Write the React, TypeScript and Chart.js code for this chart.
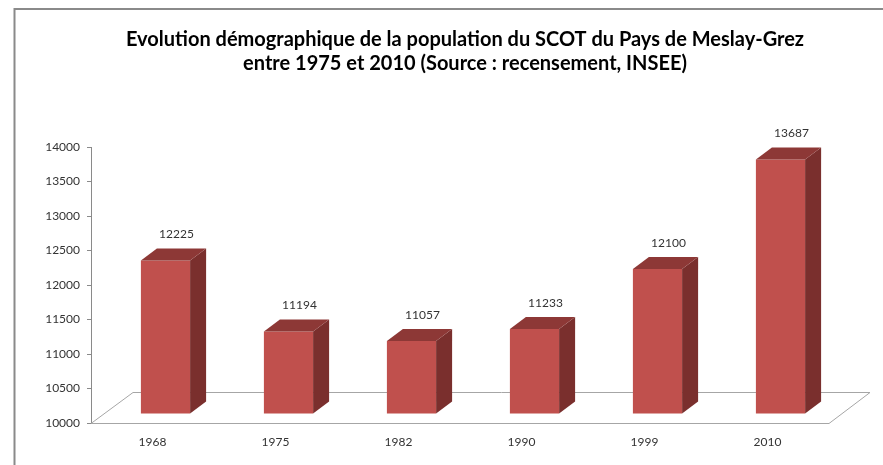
import React, { useEffect, useRef } from "react";
import { Chart, registerables } from "chart.js";

Chart.register(...registerables);

const categories = ["1968", "1975", "1982", "1990", "1999", "2010"];
const population = [12225, 11194, 11057, 11233, 12100, 13687];
const yMin = 10000;
const yMax = 14000;
const yStep = 500;
const titleLines = [
  "Evolution démographique de la population du SCOT du Pays de Meslay-Grez",
  "entre 1975 et 2010 (Source : recensement, INSEE)",
];

const FRONT = "#C0504D";
const TOP = "#8D3836";
const SIDE = "#7A2F2D";
const FONT = "Lato, 'Open Sans', sans-serif";

const threeD = {
  id: "threeD",
  beforeDraw(chart: any) {
    const ctx = chart.ctx;
    ctx.save();
    ctx.strokeStyle = "#8a8a8a";
    ctx.lineWidth = 2;
    ctx.beginPath();
    ctx.moveTo(14.5, chart.height);
    ctx.lineTo(14.5, 9);
    ctx.lineTo(chart.width, 9);
    ctx.stroke();
    ctx.fillStyle = "#000";
    ctx.font = `bold 20px ${FONT}`;
    ctx.textAlign = "center";
    ctx.textBaseline = "alphabetic";
    ctx.fillText(titleLines[0], 465, 46);
    ctx.fillText(titleLines[1], 465, 70);
    ctx.restore();
  },
  beforeDatasetsDraw(chart: any) {
    const { ctx, chartArea: a } = chart;
    ctx.save();
    ctx.strokeStyle = "#a6a6a6";
    ctx.lineWidth = 1;
    ctx.beginPath();
    ctx.moveTo(a.left, a.bottom + 0.5);
    ctx.lineTo(a.right, a.bottom + 0.5);
    ctx.lineTo(a.right + 41, a.bottom - 30.5);
    ctx.lineTo(a.left + 42, a.bottom - 30.5);
    ctx.closePath();
    ctx.stroke();
    ctx.restore();
    ctx.save();
    ctx.translate(13, -9);
  },
  afterDatasetsDraw(chart: any) {
    const ctx = chart.ctx;
    const meta = chart.getDatasetMeta(0);
    const dx = 16;
    const dy = -12;
    const tops: { x: number; y: number }[] = [];
    meta.data.forEach((bar: any) => {
      const { x, y, base, width } = bar.getProps(["x", "y", "base", "width"], true);
      const l = x - width / 2;
      const r = x + width / 2;
      ctx.fillStyle = SIDE;
      ctx.beginPath();
      ctx.moveTo(r, y);
      ctx.lineTo(r + dx, y + dy);
      ctx.lineTo(r + dx, base + dy);
      ctx.lineTo(r, base);
      ctx.closePath();
      ctx.fill();
      ctx.fillStyle = TOP;
      ctx.beginPath();
      ctx.moveTo(l, y);
      ctx.lineTo(l + dx, y + dy);
      ctx.lineTo(r + dx, y + dy);
      ctx.lineTo(r, y);
      ctx.closePath();
      ctx.fill();
      tops.push({ x: x + 13 + 11, y: y - 9 + dy - 14 });
    });
    ctx.restore();
    ctx.save();
    ctx.fillStyle = "#333";
    ctx.font = `12px ${FONT}`;
    ctx.textAlign = "center";
    ctx.textBaseline = "middle";
    const values = chart.data.datasets[0].data;
    tops.forEach((p, i) => ctx.fillText(String(values[i]), p.x, p.y));
    ctx.restore();
  },
};

export default function App() {
  const ref = useRef<HTMLCanvasElement | null>(null);
  useEffect(() => {
    document.body.style.margin = "0";
    if (!ref.current) return;
    const chart = new Chart(ref.current, {
      type: "bar",
      data: {
        labels: categories,
        datasets: [
          {
            data: population,
            backgroundColor: FRONT,
            barPercentage: 0.4,
            categoryPercentage: 1,
            base: yMin,
            clip: false as any,
          } as any,
        ],
      },
      options: {
        animation: false,
        responsive: true,
        maintainAspectRatio: false,
        layout: { padding: { top: 147, right: 54, left: 0, bottom: 0 } },
        plugins: {
          legend: { display: false },
          tooltip: { enabled: false },
          title: { display: false },
        },
        scales: {
          x: {
            grid: { display: false, drawTicks: false },
            border: { display: false },
            ticks: { color: "#333", font: { family: FONT, size: 12 }, padding: 12 },
            afterFit: (s: any) => {
              s.height = 42;
            },
          },
          y: {
            min: yMin,
            max: yMax,
            ticks: {
              stepSize: yStep,
              color: "#333",
              font: { family: FONT, size: 12 },
              padding: 7,
              callback: (v: any) => String(v),
            },
            grid: { drawOnChartArea: false, drawTicks: true, tickLength: 4, color: "#8a8a8a" },
            border: { display: true, color: "#8a8a8a" },
            afterFit: (s: any) => {
              s.width = 91;
            },
          },
        },
      },
      plugins: [threeD],
    });
    return () => chart.destroy();
  }, []);
  return (
    <div style={{ position: "relative", width: "883px", height: "465px" }}>
      <canvas ref={ref} />
    </div>
  );
}
